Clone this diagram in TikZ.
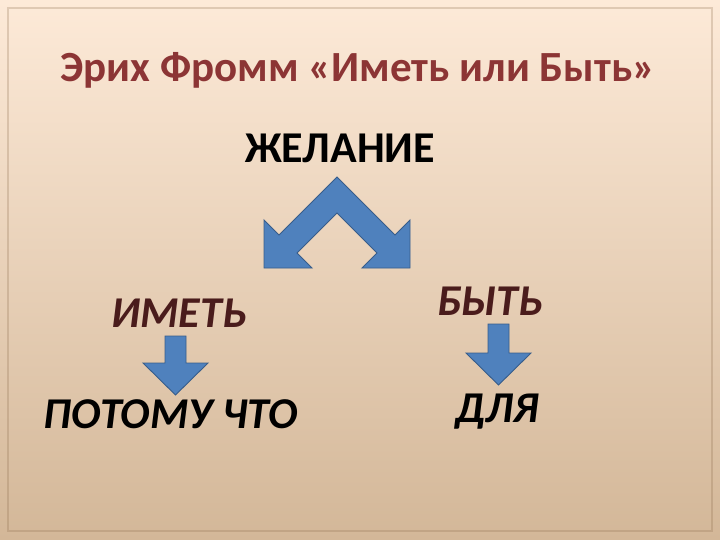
\documentclass[tikz,border=0pt]{standalone}
\usepackage{fontspec}
\setmainfont{Carlito}
\usepackage{xcolor}
\usetikzlibrary{positioning,calc}
\definecolor{frommtop}{HTML}{FDEAD8}
\definecolor{frommmid}{HTML}{F3DCC3}
\definecolor{frommbot}{HTML}{D3B798}
\definecolor{frommframe}{HTML}{8A6A4A}
\definecolor{frommred}{HTML}{8C3535}
\definecolor{frommdark}{HTML}{4A1C1C}
\definecolor{frommblue}{HTML}{4F81BD}
\definecolor{frommline}{HTML}{385D8A}

\begin{document}
\begin{tikzpicture}[x=1pt,y=-1pt,
    ttl/.style   = {font=\fontsize{43}{43}\selectfont\bfseries,text=frommred,anchor=base,inner sep=0pt},
    word/.style  = {font=\fontsize{44}{44}\selectfont\bfseries,anchor=base,inner sep=0pt},
    iword/.style = {word,font=\fontsize{44}{44}\selectfont\bfseries\itshape},
    blk/.style   = {fill=frommblue,draw=frommline,line width=0.9pt,line join=miter},
  ]

  \useasboundingbox (0,0) rectangle (720,540);
  \shade[top color=frommtop,middle color=frommmid,bottom color=frommbot]
       (0,0) rectangle (720,540);
  \draw[frommframe,draw opacity=0.25,line width=2.5pt] (8,8) rectangle (712,531);

  \node[ttl]  (title) at (358,82)  {Эрих Фромм «Иметь или Быть»};
  \node[word] (want)  at (340,163) {ЖЕЛАНИЕ};
  \node[iword,text=frommdark] (have) at (179,327) {ИМЕТЬ};
  \node[iword,text=frommdark] (be)   at (490,315) {БЫТЬ};
  \node[iword] (because) at (171,428) {ПОТОМУ ЧТО};
  \node[iword] (for)     at (497,422) {ДЛЯ};

  % fork arrow under the desire
  \draw[blk] (337,177) -- (279,235) -- (264,220) -- (264,268) -- (312,268)
       -- (297,253) -- (337,213) -- (377,253) -- (362,268) -- (410,268)
       -- (410,220) -- (395,235) -- cycle;

  % down arrows
  \draw[blk] (165,336) -- (186,336) -- (186,363) -- (208,363) -- (175.5,395)
       -- (143,363) -- (165,363) -- cycle;
  \draw[blk] (488,324) -- (509,324) -- (509,353) -- (531,353) -- (498.5,385)
       -- (466,353) -- (488,353) -- cycle;

\end{tikzpicture}
\end{document}
